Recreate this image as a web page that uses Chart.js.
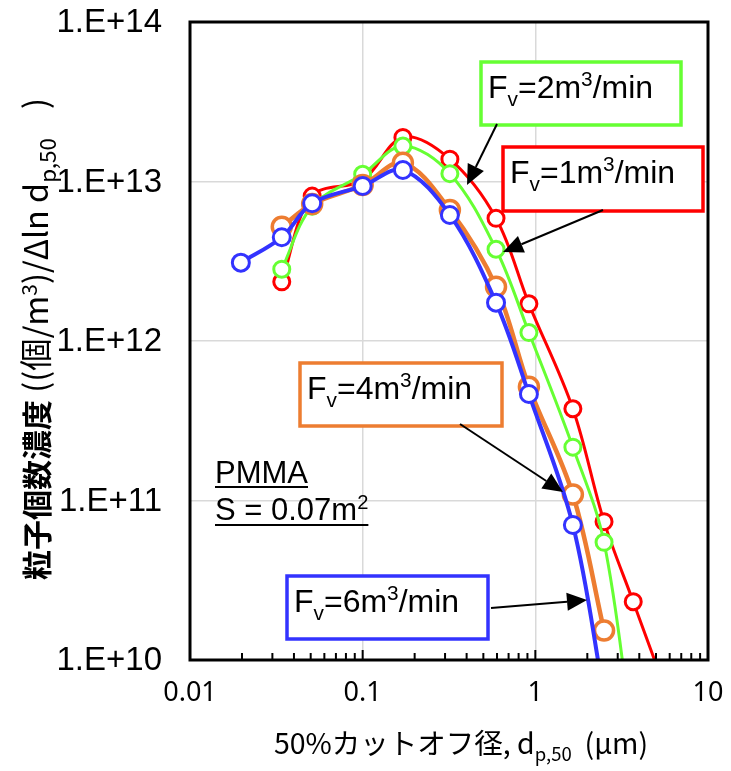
<!DOCTYPE html>
<html>
<head>
<meta charset="utf-8">
<script src="https://cdn.jsdelivr.net/npm/chart.js@4.4.1/dist/chart.umd.min.js"></script>
<style>
  html, body { margin: 0; padding: 0; background: #fff; }
  #c { display: block; }
</style>
</head>
<body>
<canvas id="c" width="731" height="771"></canvas>
<script>
// cut-off diameters (um) for each series
const dBlue   = [0.0197, 0.034, 0.051, 0.1, 0.171, 0.32, 0.592, 0.918, 1.65, 2.5];
const dOrange = [0.034, 0.051, 0.1, 0.171, 0.32, 0.592, 0.918, 1.65, 2.5];
const dGreen  = [0.034, 0.051, 0.1, 0.171, 0.32, 0.592, 0.918, 1.65, 2.5, 3.69];
const dRed    = [0.034, 0.051, 0.1, 0.171, 0.32, 0.592, 0.918, 1.65, 2.5, 3.69, 6.0];

// number concentration (1/m3)/dln dp50
const nFv6 = [3.10e12, 4.47e12, 7.30e12, 9.37e12, 1.18e13, 6.17e12, 1.74e12, 4.65e11, 7.02e10, 6.0e9];
const nFv4 = [5.21e12, 7.23e12, 9.5e12, 1.31e13, 6.63e12, 2.19e12, 5.17e11, 1.09e11, 1.53e10];
const nFv2 = [2.82e12, 7.0e12, 1.11e13, 1.67e13, 1.12e13, 3.76e12, 1.13e12, 2.16e11, 5.47e10, 3.0e9];
const nFv1 = [2.35e12, 8.1e12, 1.02e13, 1.89e13, 1.38e13, 5.88e12, 1.71e12, 3.76e11, 7.37e10, 2.32e10, 5.5e9];

const xTicks = [0.01, 0.1, 1, 10];
const xTickLabels = ['0.01', '0.1', '1', '10'];
const yTicks = [1e10, 1e11, 1e12, 1e13, 1e14];
const yTickLabels = ['1.E+10', '1.E+11', '1.E+12', '1.E+13', '1.E+14'];

const RED = '#ff0000', GREEN = '#66ff33', ORANGE = '#ed7d31', BLUE = '#3333ff';

function pts(xs, ys) {
  return xs.map((x, i) => ({ x: x, y: ys[i] }));
}

function isDecade(v) {
  const l = Math.log10(v);
  return Math.abs(l - Math.round(l)) < 1e-6;
}

function series(data, color, lw, r, bw) {
  return {
    data: data,
    showLine: true,
    borderColor: color,
    borderWidth: lw,
    tension: 0.35,
    pointRadius: r,
    pointHoverRadius: r,
    pointBorderWidth: bw,
    pointBorderColor: color,
    pointBackgroundColor: '#fff',
    clip: { left: 0, top: 0, right: 0, bottom: 0 }
  };
}

// text with sub/superscripts; parts = [[text, mode, weight, sizeFactor]]
function partFont(ctx, p, size, family) {
  const s = (p[1] ? size * 0.65 : size) * (p[3] || 1);
  ctx.font = (p[2] || '') + ' ' + s + 'px ' + family;
}
function richWidth(ctx, parts, size, family) {
  let w = 0;
  parts.forEach(p => {
    partFont(ctx, p, size, family);
    w += ctx.measureText(p[0]).width;
  });
  return w;
}
function drawRich(ctx, parts, x, y, size, family) {
  parts.forEach(p => {
    partFont(ctx, p, size, family);
    let dy = 0;
    if (p[1] === 'sub') dy = size * 0.25;
    if (p[1] === 'sup') dy = -size * 0.36;
    ctx.fillText(p[0], x, y + dy);
    x += ctx.measureText(p[0]).width;
  });
  return x;
}

const labels = [
  { color: GREEN,  box: [481, 62, 200, 63],  v: '2', tip: [467, 185], from: [497, 124] },
  { color: RED,    box: [503, 147, 200, 64], v: '1', tip: [503, 252], from: [603, 210] },
  { color: ORANGE, box: [300, 363, 202, 63], v: '4', tip: [563, 492], from: [460, 424] },
  { color: BLUE,   box: [287, 576, 201, 63], v: '6', tip: [587, 600], from: [491, 608] }
];

function arrow(ctx, from, tip) {
  const ang = Math.atan2(tip[1] - from[1], tip[0] - from[0]);
  const len = 20, hw = 9;
  const bx = tip[0] - len * Math.cos(ang), by = tip[1] - len * Math.sin(ang);
  ctx.strokeStyle = '#000';
  ctx.lineWidth = 2;
  ctx.beginPath();
  ctx.moveTo(from[0], from[1]);
  ctx.lineTo(bx, by);
  ctx.stroke();
  ctx.fillStyle = '#000';
  ctx.beginPath();
  ctx.moveTo(tip[0], tip[1]);
  ctx.lineTo(bx + hw * Math.sin(ang), by - hw * Math.cos(ang));
  ctx.lineTo(bx - hw * Math.sin(ang), by + hw * Math.cos(ang));
  ctx.closePath();
  ctx.fill();
}

const decorPlugin = {
  id: 'decor',
  afterDatasetsDraw(chart) {
    const ctx = chart.ctx;
    const a = chart.chartArea;
    const xs = chart.scales.x, ys = chart.scales.y;
    ctx.save();
    // frame
    ctx.strokeStyle = '#000';
    ctx.lineWidth = 3;
    ctx.strokeRect(a.left, a.top, a.right - a.left, a.bottom - a.top);
    // inward tick marks on the x axis
    ctx.lineWidth = 2;
    for (let e = -2; e <= 1; e++) {
      for (let k = 1; k <= 9; k++) {
        const v = k * Math.pow(10, e);
        if (v > 10.0001) break;
        const px = xs.getPixelForValue(v);
        const len = k === 1 ? 10 : 7;
        ctx.beginPath();
        ctx.moveTo(px, a.bottom);
        ctx.lineTo(px, a.bottom - len);
        ctx.stroke();
      }
    }

    const fam = "'Liberation Sans', Arial, sans-serif";
    const cjk = "'Noto Sans CJK JP', 'Noto Sans', sans-serif";

    // tick labels
    ctx.fillStyle = '#000';
    ctx.textBaseline = 'middle';
    ctx.textAlign = 'right';
    ctx.font = '33px ' + fam;
    yTicks.forEach((v, i) => ctx.fillText(yTickLabels[i], 162, ys.getPixelForValue(v) + 1));
    ctx.textAlign = 'center';
    ctx.font = "27px 'Noto Sans', 'Open Sans', sans-serif";
    xTicks.forEach((v, i) => ctx.fillText(xTickLabels[i], xs.getPixelForValue(v), 693));

    // PMMA note
    ctx.textBaseline = 'alphabetic';
    ctx.textAlign = 'left';
    ctx.font = '31px ' + fam;
    ctx.fillText('PMMA', 215, 483);
    const w1 = ctx.measureText('PMMA').width;
    ctx.fillRect(215, 486, w1, 2);
    const sEnd = drawRich(ctx, [['S = 0.07m', ''], ['2', 'sup']], 215, 520, 31, fam);
    ctx.fillRect(215, 524, sEnd - 215, 2);

    // flow-rate labels
    labels.forEach(l => {
      const b = l.box;
      ctx.fillStyle = '#fff';
      ctx.fillRect(b[0], b[1], b[2], b[3]);
      ctx.strokeStyle = l.color;
      ctx.lineWidth = 3.5;
      ctx.strokeRect(b[0], b[1], b[2], b[3]);
      ctx.fillStyle = '#000';
      drawRich(ctx, [['F', ''], ['v', 'sub'], ['=' + l.v + 'm', ''], ['3', 'sup'], ['/min', '']],
        b[0] + 7, b[1] + 36, 32, fam);
      arrow(ctx, l.from, l.tip);
    });

    // x axis title
    const xParts = [['50%カットオフ径, d', ''], ['p,50', 'sub'], ['  (μm)', '']];
    const xw = richWidth(ctx, xParts, 28.5, cjk);
    ctx.fillStyle = '#000';
    drawRich(ctx, xParts, 461 - xw / 2, 754, 28.5, cjk);

    // y axis title (rotated)
    const yParts = [
      ['粒子個数濃度', '', 'bold'], [' ((個/m', '', '', 1.08], ['3', 'sup', '', 1.08],
      [')/Δln d', '', '', 1.08], ['p,50', 'sub', '', 1.15], ['    )', '', '', 1.08]
    ];
    const yw = richWidth(ctx, yParts, 30, cjk);
    ctx.translate(48, 339);
    ctx.rotate(-Math.PI / 2);
    drawRich(ctx, yParts, -yw / 2, 0, 30, cjk);
    ctx.restore();
  }
};

const chart = new Chart(document.getElementById('c'), {
  type: 'scatter',
  data: {
    datasets: [
      series(pts(dBlue, nFv6), BLUE, 4, 8.5, 3),
      series(pts(dOrange, nFv4), ORANGE, 4.5, 9.5, 3.5),
      series(pts(dGreen, nFv2), GREEN, 3, 8, 3),
      series(pts(dRed, nFv1), RED, 3, 8, 3)
    ]
  },
  options: {
    responsive: false,
    devicePixelRatio: 1,
    animation: false,
    layout: { padding: { top: 22, right: 23, left: 0, bottom: 0 } },
    plugins: { legend: { display: false }, tooltip: { enabled: false } },
    scales: {
      x: {
        type: 'logarithmic',
        min: 0.01,
        max: 10,
        afterFit: (s) => { s.height = 111; },
        border: { display: false },
        grid: {
          drawTicks: false,
          lineWidth: 1.5,
          color: (c) => (c.tick && isDecade(c.tick.value) ? '#d9d9d9' : 'rgba(0,0,0,0)')
        },
        ticks: { display: false, autoSkip: false }
      },
      y: {
        type: 'logarithmic',
        min: 1e10,
        max: 1e14,
        afterFit: (s) => { s.width = 190; },
        border: { display: false },
        grid: {
          drawTicks: false,
          lineWidth: 1.5,
          color: (c) => (c.tick && isDecade(c.tick.value) ? '#d9d9d9' : 'rgba(0,0,0,0)')
        },
        ticks: { display: false, autoSkip: false }
      }
    }
  },
  plugins: [decorPlugin]
});
</script>
</body>
</html>
